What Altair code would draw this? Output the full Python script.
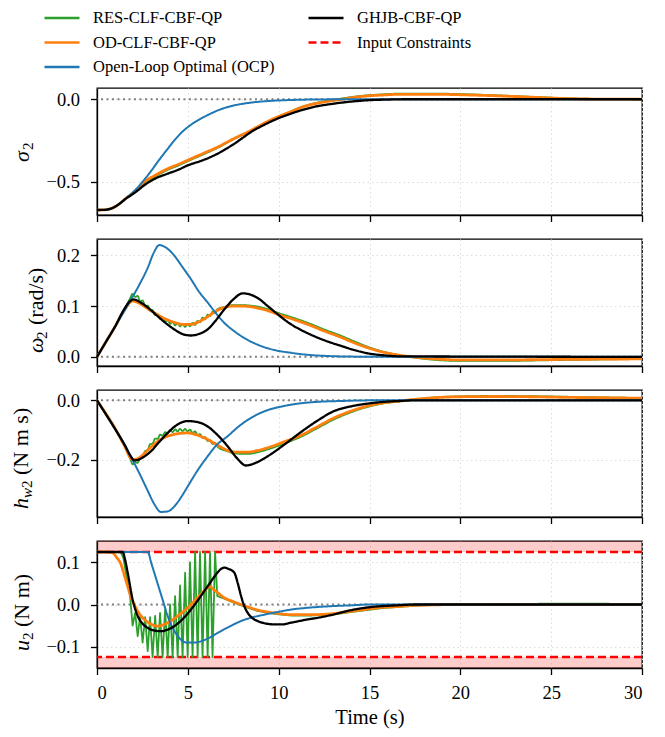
import altair as alt
import pandas as pd

FONT = "Liberation Serif"

# ---------------- series / styling ----------------
SERIES = ["RES-CLF-CBF-QP", "OD-CLF-CBF-QP", "Open-Loop Optimal (OCP)", "GHJB-CBF-QP", "Input Constraints"]
COLORS = ["#2ca02c", "#ff7f0e", "#1f77b4", "#000000", "#ff0000"]
DASHES = [[1, 0], [1, 0], [1, 0], [1, 0], [8, 4]]

T_END = 30
X_TICKS = [0, 5, 10, 15, 20, 25, 30]
U_MAX = 0.124

SIG_YLIM = [-0.70, 0.068]
SIG_TICKS = [-0.5, 0.0]
OMG_YLIM = [-0.018, 0.232]
OMG_TICKS = [0.0, 0.1, 0.2]
H_YLIM = [-0.394, 0.035]
H_TICKS = [-0.2, 0.0]
U_YLIM = [-0.15, 0.15]
U_TICKS = [-0.1, 0.0, 0.1]

# times at which the RES controller chatters
RIPPLE_T = [1.96, 2.10, 2.24, 2.37, 2.51, 2.65, 2.79, 2.92, 3.06, 3.20, 3.34, 3.47, 3.61, 3.75,
            3.89, 4.02, 4.16, 4.30, 4.44, 4.57, 4.71, 4.85, 4.99, 5.12, 5.26, 5.40, 5.54, 5.67,
            5.81, 5.95, 6.09, 6.22, 6.36, 6.50]

# ---------------- sigma_2 ----------------
SIG_T_OCP = [0, 0.5, 0.8, 1.1, 1.32, 1.7, 2.05, 2.5, 2.97, 3.4, 3.89, 4.25, 4.62, 5.2, 5.72, 6.2,
             6.64, 7.1, 7.56, 8.5, 9.39, 10.3, 11.2, 12.5, 14, 30]
SIG_OCP = [-0.67, -0.668, -0.66, -0.643, -0.625, -0.59, -0.555, -0.50, -0.435, -0.37, -0.30,
           -0.25, -0.205, -0.152, -0.117, -0.09, -0.068, -0.05, -0.037, -0.02, -0.011, -0.006,
           -0.003, -0.001, 0.0, 0.0]
SIG_T_GHJB = [0, 0.5, 0.8, 1.1, 1.32, 1.6, 1.87, 2.2, 2.6, 3.2, 3.89, 4.5, 4.99, 5.8, 6.64, 7.1,
              7.56, 8.0, 8.48, 9.2, 9.94, 10.6, 11.23, 12.0, 12.88, 13.5, 14.2, 14.9, 16, 17, 30]
SIG_GHJB = [-0.67, -0.668, -0.66, -0.643, -0.625, -0.60, -0.581, -0.555, -0.52, -0.48, -0.45,
            -0.425, -0.40, -0.37, -0.329, -0.30, -0.269, -0.235, -0.198, -0.155, -0.117, -0.09,
            -0.067, -0.045, -0.029, -0.02, -0.012, -0.006, -0.002, 0.0, 0.0]
SIG_T_OD = [0, 0.5, 0.8, 1.1, 1.32, 1.6, 1.87, 2.2, 2.6, 3.2, 3.89, 4.5, 4.99, 5.8, 6.64, 7.5, 8.48,
            9.2, 9.94, 10.6, 11.23, 12.0, 12.88, 13.5, 14.2, 14.9, 15.8, 16.7, 18.6, 20.4, 22.2,
            24, 25.9, 27.5, 30]
SIG_OD = [-0.67, -0.668, -0.66, -0.643, -0.625, -0.598, -0.575, -0.545, -0.50, -0.46, -0.42,
          -0.393, -0.369, -0.33, -0.289, -0.24, -0.188, -0.145, -0.107, -0.078, -0.05, -0.027,
          -0.01, 0.0, 0.012, 0.02, 0.026, 0.030, 0.030, 0.026, 0.02, 0.012, 0.004, 0.001, 0.0]
SIG_T_RES = SIG_T_OD
SIG_RES = [-0.67, -0.668, -0.66, -0.643, -0.625, -0.599, -0.577, -0.55, -0.507, -0.468, -0.427,
           -0.40, -0.375, -0.336, -0.294, -0.243, -0.19, -0.146, -0.107, -0.077, -0.048, -0.024,
           -0.006, 0.005, 0.016, 0.024, 0.030, 0.034, 0.034, 0.030, 0.023, 0.014, 0.006, 0.002, 0.0]

# ---------------- omega_2 ----------------
OMG_T_OCP = [0, 0.5, 1.0, 1.78, 2.3, 2.8, 3.1, 3.43, 3.8, 4.26, 4.7, 5.17, 5.6, 6.09, 6.5, 7.0,
             7.5, 7.93, 8.84, 9.7, 10.68, 11.6, 12.5, 14, 16, 30]
OMG_OCP = [0, 0.03, 0.06, 0.107, 0.14, 0.176, 0.203, 0.220, 0.215, 0.199, 0.177, 0.153, 0.129,
           0.107, 0.088, 0.067, 0.052, 0.041, 0.024, 0.014, 0.008, 0.004, 0.002, 0.0005, 0, 0]
OMG_T_GHJB = [0, 0.5, 1.0, 1.5, 1.8, 2.02, 2.4, 2.8, 3.34, 3.8, 4.26, 4.7, 5.17, 5.6, 6.09, 6.5,
              7.0, 7.5, 8.02, 8.4, 8.84, 9.4, 9.94, 10.6, 11.23, 12.0, 12.8, 13.4, 14.2, 14.9,
              15.8, 16.7, 30]
OMG_GHJB = [0, 0.03, 0.06, 0.094, 0.109, 0.113, 0.107, 0.097, 0.080, 0.066, 0.054, 0.045, 0.042,
            0.045, 0.054, 0.07, 0.093, 0.113, 0.125, 0.123, 0.116, 0.100, 0.084, 0.066, 0.053,
            0.04, 0.029, 0.022, 0.013, 0.007, 0.003, 0.001, 0]
OMG_T_OD = [0, 0.5, 1.0, 1.5, 1.96, 2.3, 2.7, 3.34, 3.8, 4.26, 4.7, 5.17, 5.6, 6.09, 6.5, 7.0, 7.5,
            7.93, 8.4, 8.84, 9.4, 9.94, 10.8, 11.6, 12.5, 13.4, 14.2, 14.9, 15.8, 16.7, 17.6, 18.6,
            20, 22, 25.9, 30]
OMG_OD = [0, 0.03, 0.06, 0.092, 0.110, 0.106, 0.097, 0.083, 0.074, 0.068, 0.064, 0.064, 0.069,
          0.079, 0.089, 0.097, 0.100, 0.100, 0.099, 0.096, 0.091, 0.084, 0.074, 0.064, 0.051,
          0.039, 0.027, 0.018, 0.009, 0.003, -0.001, -0.004, -0.006, -0.006, -0.005, -0.004]
OMG_T_RES = [0, 0.5, 1.0, 1.5, 1.82] + RIPPLE_T + [6.64, 7.0, 7.5, 7.93, 8.4, 8.84, 9.4, 9.94, 10.8,
                                                   11.6, 12.5, 13.4, 14.2, 14.9, 15.8, 16.7, 17.6,
                                                   18.6, 20, 22, 25.9, 30]
OMG_RES = [0, 0.03, 0.06, 0.093, 0.115,
           0.124, 0.118, 0.120, 0.109, 0.111, 0.100, 0.101, 0.091, 0.092, 0.082, 0.084, 0.075,
           0.078, 0.069, 0.073, 0.065, 0.069, 0.062, 0.067, 0.060, 0.065, 0.059, 0.065, 0.060,
           0.067, 0.063, 0.071, 0.068, 0.077, 0.074, 0.083, 0.080, 0.089, 0.086,
           0.094, 0.098, 0.102, 0.102, 0.101, 0.099, 0.094, 0.087, 0.077, 0.067, 0.054, 0.042,
           0.030, 0.020, 0.010, 0.003, -0.002, -0.006, -0.008, -0.008, -0.006, -0.004]

# ---------------- h_w2 ----------------
H_T_OCP = [0, 0.5, 0.95, 1.5, 2.05, 2.4, 2.79, 3.15, 3.52, 3.9, 4.26, 4.6, 4.99, 5.5, 6.09, 6.6,
           7.19, 7.8, 8.48, 9.3, 10.3, 11.2, 12.15, 13.5, 15, 30]
H_OCP = [0, -0.048, -0.092, -0.148, -0.212, -0.255, -0.305, -0.35, -0.377, -0.375, -0.358, -0.33,
         -0.291, -0.24, -0.189, -0.15, -0.121, -0.088, -0.059, -0.035, -0.019, -0.01, -0.005,
         -0.002, 0, 0]
H_T_GHJB = [0, 0.5, 0.95, 1.5, 1.87, 2.05, 2.3, 2.6, 2.97, 3.4, 3.89, 4.4, 4.99, 5.5, 6.09, 6.6,
            7.19, 7.7, 8.2, 8.7, 9.39, 10.3, 11.23, 12.1, 13.06, 14.0, 14.9, 15.8, 16.7, 17.5, 30]
H_GHJB = [0, -0.048, -0.092, -0.148, -0.19, -0.203, -0.2, -0.19, -0.172, -0.142, -0.110, -0.083,
          -0.070, -0.073, -0.088, -0.115, -0.155, -0.195, -0.220, -0.212, -0.189, -0.15, -0.107,
          -0.07, -0.036, -0.02, -0.011, -0.005, -0.002, 0, 0]
H_T_OD = [0, 0.5, 0.95, 1.5, 1.95, 2.3, 2.6, 2.97, 3.4, 3.89, 4.4, 4.99, 5.5, 6.09, 6.6, 7.19, 7.7,
          8.3, 8.8, 9.39, 10.3, 11.23, 12.1, 13.06, 14.0, 14.9, 15.8, 16.7, 17.6, 18.6, 20.4, 22,
          24.1, 26, 27.8, 30]
H_OD = [0, -0.046, -0.09, -0.152, -0.200, -0.195, -0.18, -0.158, -0.136, -0.121, -0.113, -0.110,
        -0.117, -0.132, -0.15, -0.169, -0.175, -0.175, -0.17, -0.160, -0.14, -0.118, -0.09, -0.059,
        -0.036, -0.019, -0.008, -0.002, 0.004, 0.009, 0.0125, 0.013, 0.012, 0.010, 0.009, 0.007]
H_T_RES = [0, 0.5, 0.95, 1.5, 1.82] + RIPPLE_T + [6.64, 7.19, 7.7, 8.3, 8.8, 9.39, 10.3, 11.23, 12.1,
                                                 13.06, 14.0, 14.9, 15.8, 16.7, 17.6, 18.6, 20.4,
                                                 22, 24.1, 26, 27.8, 30]
H_RES = [0, -0.046, -0.09, -0.152, -0.195,
         -0.216, -0.209, -0.211, -0.194, -0.191, -0.171, -0.167, -0.148, -0.146, -0.129, -0.130,
         -0.116, -0.119, -0.107, -0.112, -0.101, -0.107, -0.098, -0.105, -0.096, -0.104, -0.096,
         -0.105, -0.099, -0.110, -0.105, -0.117, -0.114, -0.127, -0.124, -0.137, -0.134, -0.147,
         -0.144, -0.157,
         -0.172, -0.18, -0.181, -0.176, -0.166, -0.146, -0.123, -0.095, -0.064, -0.04, -0.022,
         -0.01, -0.003, 0.004, 0.01, 0.014, 0.015, 0.014, 0.012, 0.01, 0.008]

# ---------------- u_2 ----------------
U_T_OCP = [0, 2.79, 3.0, 3.34, 3.6, 3.89, 4.15, 4.44, 4.7, 4.99, 5.3, 5.72, 6.2, 6.64, 7.3, 7.93,
           8.5, 9.21, 9.9, 10.68, 11.8, 12.88, 14, 15, 30]
U_OCP = [0.124, 0.124, 0.096, 0.049, 0.013, -0.027, -0.054, -0.074, -0.086, -0.090, -0.090,
         -0.087, -0.078, -0.067, -0.052, -0.039, -0.031, -0.024, -0.018, -0.012, -0.007, -0.004,
         -0.002, 0.0, 0.0]
U_T_GHJB = [0, 1.41, 1.55, 1.69, 1.96, 2.24, 2.5, 2.79, 3.1, 3.52, 3.9, 4.26, 4.7, 5.17, 5.6, 6.09,
            6.5, 6.8, 7.0, 7.25, 7.56, 7.75, 7.93, 8.1, 8.3, 8.55, 8.84, 9.3, 9.76, 10.2, 10.68,
            11.5, 12.2, 12.88, 13.8, 14.71, 15.6, 16.5, 17.5, 30]
U_GHJB = [0.124, 0.124, 0.105, 0.075, 0.012, -0.027, -0.045, -0.055, -0.061, -0.063, -0.059,
          -0.051, -0.035, -0.012, 0.013, 0.043, 0.068, 0.083, 0.087, 0.084, 0.075, 0.05, 0.020,
          -0.003, -0.020, -0.032, -0.039, -0.045, -0.047, -0.047, -0.043, -0.036, -0.031, -0.025,
          -0.015, -0.008, -0.004, -0.002, 0.0, 0.0]
U_T_OD = [0, 0.5, 0.86, 1.1, 1.32, 1.5, 1.69, 1.85, 2.05, 2.3, 2.6, 2.95, 3.34, 3.7, 4.07, 4.5, 4.99,
          5.35, 5.72, 6.0, 6.18, 6.4, 6.64, 7.0, 7.5, 7.93, 8.4, 8.84, 9.3, 9.76, 10.68, 11.8,
          12.88, 13.8, 14.71, 15.6, 16.5, 17.5, 18.4, 20, 30]
U_OD = [0.124, 0.124, 0.122, 0.11, 0.095, 0.07, 0.043, 0.02, 0.0, -0.02, -0.035, -0.046, -0.051,
        -0.047, -0.039, -0.025, -0.008, 0.008, 0.024, 0.036, 0.043, 0.036, 0.028, 0.016, 0.007,
        0.0, -0.007, -0.013, -0.017, -0.020, -0.024, -0.024, -0.022, -0.017, -0.012, -0.007,
        -0.005, -0.002, -0.001, 0.0, 0.0]
U_T_RES = [0, 1.3, 1.45, 1.65, 1.82] + RIPPLE_T + [6.62, 7.0, 7.5, 7.93, 8.4, 8.84, 9.3, 9.76, 10.68,
                                                  11.8, 12.88, 13.8, 14.71, 15.6, 16.5, 17.5,
                                                  18.4, 20, 22.5, 25, 27.5, 30]
U_RES = [0.124, 0.124, 0.11, 0.06, 0.02,
         -0.05, -0.02, -0.075, -0.028, -0.09, -0.03, -0.11, -0.03, -0.124, -0.027, -0.124, -0.02,
         -0.124, -0.012, -0.124, 0.0, -0.124, 0.02, -0.124, 0.045, -0.124, 0.075, -0.124, 0.10,
         -0.124, 0.124, -0.124, 0.124, -0.124, 0.124, -0.124, 0.124, -0.124, 0.124,
         0.02, 0.014, 0.005, -0.002, -0.009, -0.015, -0.019, -0.022, -0.026, -0.026, -0.024,
         -0.019, -0.014, -0.009, -0.006, -0.003, -0.001, 0.0, 0.001, 0.002, 0.002, 0.001]

for a, b in [(SIG_T_OCP, SIG_OCP), (SIG_T_GHJB, SIG_GHJB), (SIG_T_OD, SIG_OD), (SIG_T_RES, SIG_RES),
             (OMG_T_OCP, OMG_OCP), (OMG_T_GHJB, OMG_GHJB), (OMG_T_OD, OMG_OD), (OMG_T_RES, OMG_RES),
             (H_T_OCP, H_OCP), (H_T_GHJB, H_GHJB), (H_T_OD, H_OD), (H_T_RES, H_RES),
             (U_T_OCP, U_OCP), (U_T_GHJB, U_GHJB), (U_T_OD, U_OD), (U_T_RES, U_RES)]:
    assert len(a) == len(b), (len(a), len(b))

# ---------------- chart building ----------------
PLOT_W = 545
PLOT_H = 127

color_scale = alt.Scale(domain=SERIES, range=COLORS)
dash_scale = alt.Scale(domain=SERIES, range=DASHES)
LEGEND = alt.Legend(
    title=None, orient="none", legendX=-54, legendY=-79, columns=2, direction="vertical",
    symbolType="stroke", symbolSize=1225, symbolStrokeWidth=2.5, labelFont=FONT,
    labelFontSize=16.5, labelOffset=12, clipHeight=18, rowPadding=6.5, columnPadding=32,
    padding=0, labelColor="black", labelLimit=400,
)

STYLE = {
    "RES-CLF-CBF-QP": (1.8, "monotone"),
    "OD-CLF-CBF-QP": (2.8, "monotone"),
    "Open-Loop Optimal (OCP)": (2.0, "monotone"),
    "GHJB-CBF-QP": (2.3, "monotone"),
}


def panel(curves, ylim, yticks, title_parts, bottom=False, constraints=False, res_interp="monotone"):
    xs = alt.Scale(domain=[0, T_END], nice=False, zero=False)
    ys = alt.Scale(domain=ylim, nice=False, zero=False)
    xa = alt.Axis(values=X_TICKS, labels=bottom, format="d", labelFont=FONT, labelFontSize=18.5,
                  labelPadding=9, titlePadding=5,
                  title="Time (s)" if bottom else None)
    ya = alt.Axis(values=yticks, format=".1f", title=None, labelFont=FONT, labelFontSize=18.5,
                  labelPadding=11)
    layers = []
    if constraints:
        band = pd.DataFrame({"x0": [0, 0], "x1": [T_END, T_END],
                             "y0": [U_MAX, ylim[0]], "y1": [ylim[1], -U_MAX]})
        layers.append(alt.Chart(band).mark_rect(color="#ff0000", opacity=0.2).encode(
            x=alt.X("x0:Q", scale=xs, axis=xa), x2="x1:Q",
            y=alt.Y("y0:Q", scale=ys, axis=ya), y2="y1:Q"))
        lim = pd.DataFrame({"y": [U_MAX, -U_MAX], "series": ["Input Constraints"] * 2})
        layers.append(alt.Chart(lim).mark_rule(strokeWidth=2.5).encode(
            y=alt.Y("y:Q", scale=ys, axis=ya),
            color=alt.Color("series:N", scale=color_scale, legend=LEGEND),
            strokeDash=alt.StrokeDash("series:N", scale=dash_scale, legend=LEGEND)))
    zero = pd.DataFrame({"y": [0.0]})
    layers.append(alt.Chart(zero).mark_rule(color="#808080", strokeDash=[2, 3.5], strokeWidth=2).encode(
        y=alt.Y("y:Q", scale=ys, axis=ya)))
    for name in ["RES-CLF-CBF-QP", "OD-CLF-CBF-QP", "Open-Loop Optimal (OCP)", "GHJB-CBF-QP"]:
        t, v = curves[name]
        w, interp = STYLE[name]
        if name == "RES-CLF-CBF-QP":
            interp = res_interp
        df = pd.DataFrame({"t": t, "v": v, "series": name})
        layers.append(alt.Chart(df).mark_line(strokeWidth=w, interpolate=interp,
                                              strokeJoin="round").encode(
            x=alt.X("t:Q", scale=xs, axis=xa),
            y=alt.Y("v:Q", scale=ys, axis=ya),
            color=alt.Color("series:N", scale=color_scale, legend=LEGEND),
            strokeDash=alt.StrokeDash("series:N", scale=dash_scale, legend=LEGEND)))
    for text, italic, size, x, y in title_parts:
        layers.append(alt.Chart(alt.Data(values=[{}])).mark_text(
            text=text, angle=270, align="left", baseline="alphabetic", font=FONT,
            fontSize=size, fontStyle="italic" if italic else "normal", color="black").encode(
            x=alt.value(x), y=alt.value(y)))
    return alt.layer(*layers).properties(width=PLOT_W, height=PLOT_H)


p1 = panel({"RES-CLF-CBF-QP": (SIG_T_RES, SIG_RES), "OD-CLF-CBF-QP": (SIG_T_OD, SIG_OD),
            "Open-Loop Optimal (OCP)": (SIG_T_OCP, SIG_OCP), "GHJB-CBF-QP": (SIG_T_GHJB, SIG_GHJB)},
           SIG_YLIM, SIG_TICKS,
           [("σ", True, 22, -68, 74), ("2", False, 15, -64, 62)])
p2 = panel({"RES-CLF-CBF-QP": (OMG_T_RES, OMG_RES), "OD-CLF-CBF-QP": (OMG_T_OD, OMG_OD),
            "Open-Loop Optimal (OCP)": (OMG_T_OCP, OMG_OCP), "GHJB-CBF-QP": (OMG_T_GHJB, OMG_GHJB)},
           OMG_YLIM, OMG_TICKS,
           [("ω", True, 22, -54, 114), ("2", False, 15, -50, 100), ("(rad/s)", False, 22, -54, 86)])
p3 = panel({"RES-CLF-CBF-QP": (H_T_RES, H_RES), "OD-CLF-CBF-QP": (H_T_OD, H_OD),
            "Open-Loop Optimal (OCP)": (H_T_OCP, H_OCP), "GHJB-CBF-QP": (H_T_GHJB, H_GHJB)},
           H_YLIM, H_TICKS,
           [("h", True, 22, -69, 119), ("w", True, 15, -65, 108), ("2", False, 15, -65, 98),
            ("(N m s)", False, 22, -69, 85)])
p4 = panel({"RES-CLF-CBF-QP": (U_T_RES, U_RES), "OD-CLF-CBF-QP": (U_T_OD, U_OD),
            "Open-Loop Optimal (OCP)": (U_T_OCP, U_OCP), "GHJB-CBF-QP": (U_T_GHJB, U_GHJB)},
           U_YLIM, U_TICKS,
           [("u", True, 22, -68, 110), ("2", False, 15, -64, 99), ("(N m)", False, 22, -68, 86)],
           bottom=True, constraints=True, res_interp="linear")

chart = alt.vconcat(p1, p2, p3, p4, spacing=15).resolve_scale(
    x="independent", y="independent", color="shared", strokeDash="shared"
).properties(
    padding={"left": 1, "top": 1, "right": 5, "bottom": 0}, background="white"
).configure(
    font=FONT
).configure_view(
    stroke="black", strokeWidth=1.3
).configure_axis(
    domainColor="black", domainWidth=1.3, tickColor="black", tickWidth=1.3, tickSize=6.5,
    labelFont=FONT, labelFontSize=18.5, labelColor="black",
    titleFont=FONT, titleFontSize=20.5, titleColor="black", titleFontWeight="normal",
    grid=True, gridColor="#dcdcdc", gridDash=[1.5, 3], gridWidth=1,
)

chart.save("out.html", embed_options={"renderer": "svg", "actions": False})
